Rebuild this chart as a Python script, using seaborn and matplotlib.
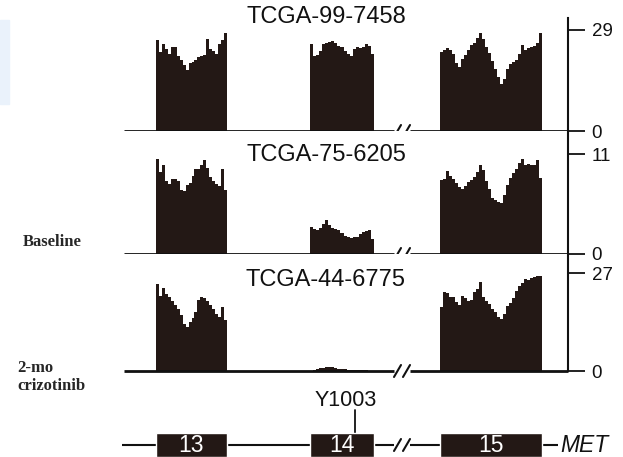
import numpy as np
import pandas as pd
import matplotlib.pyplot as plt
import seaborn as sns
from matplotlib.patches import Rectangle

# samples and depth scale of each track
samples = ['TCGA-99-7458', 'TCGA-75-6205', 'TCGA-44-6775']
max_depth = [29, 11, 27]

# MET exons 13-15 (plot coordinates, intron between 14 and 15 is cut)
exons = ['13', '14', '15']
exon_start = [156, 310, 440]
exon_end = [227, 374, 542]
mutation = 'Y1003'
mutation_pos = 355
gene = 'MET'

# read depth per bin
s1_ex13 = [26, 22.8, 25, 23.5, 22, 24, 24, 21.5, 20.5, 19, 17.5, 19.5,
           19.8, 20.5, 21.3, 21.5, 21.8, 26.5, 23.5, 23, 22, 25, 26, 28]
s1_ex14 = [25, 21.5, 21.7, 23, 25, 25.3, 25.5, 25.8, 25.2, 24.5, 24,
           23, 22, 21.5, 23.5, 24, 23.8, 24, 25, 24.5, 22]
s1_ex15 = [22.6, 23.3, 23.7, 23.4, 22, 19.5, 18.5, 20.6, 21.8, 23.2, 24.7,
           25.4, 26.7, 28.1, 26.5, 24.2, 22.5, 20.2, 17.8, 15.4, 13.6, 14.8,
           17.8, 19.3, 19.8, 20.3, 22, 24.7, 23.2, 23.8, 24, 24.5, 25.2, 28]

s2_ex13 = [10.5, 9.0, 9.8, 8.0, 7.7, 8.2, 8.3, 8.0, 7.0, 6.9, 7.6, 7.8,
           8.6, 9.3, 9.4, 9.8, 10.3, 9.5, 8.5, 8.0, 7.7, 7.5, 9.3, 7.0]
s2_ex14 = [3.0, 2.7, 2.6, 2.9, 3.3, 3.7, 3.2, 2.9, 2.8, 2.6, 2.3, 2.0,
           1.9, 1.8, 1.9, 1.9, 2.2, 2.4, 2.5, 2.6, 1.6]
s2_ex15 = [8.1, 8.3, 9.1, 8.6, 8.2, 7.8, 7.4, 7.2, 7.5, 7.9, 8.1, 8.5,
           9.0, 9.8, 9.2, 8.0, 7.1, 6.2, 5.9, 5.7, 5.6, 6.5, 7.6, 8.4,
           8.9, 9.4, 10.0, 10.5, 9.8, 9.9, 9.8, 9.8, 10.3, 8.4]

s3_ex13 = [24, 20.6, 23, 21.2, 20.5, 19.2, 18.3, 17, 15.5, 13, 12, 13.5,
           14.5, 16.2, 19.5, 20.5, 20, 19.3, 18.2, 17.2, 15.8, 15, 17.5, 14]
s3_ex14 = [0, 0.4, 0.6, 0.8, 0.9, 1.0, 1.1, 1.0, 0.8, 0.6, 0.5, 0.5,
           0.4, 0.4, 0.4, 0.3, 0.3, 0.3, 0.2, 0.1, 0]
s3_ex15 = [17.5, 21.8, 21.5, 20.5, 20.5, 19, 18.3, 20.8, 20, 19.2, 19.5,
           21.8, 22.5, 24.5, 20.5, 19.2, 18.5, 17, 16.2, 15, 14.3, 15.8,
           17.8, 18.8, 20, 22, 23.5, 24.2, 25.3, 25, 25.5, 26, 26.3, 26.2]

coverage = [[s1_ex13, s1_ex14, s1_ex15],
            [s2_ex13, s2_ex14, s2_ex15],
            [s3_ex13, s3_ex14, s3_ex15]]

FILL = '#231815'
LINE = '#111111'
W, H = 623, 457
XMIN, XMAX = 124, 568
BREAK = 402

sns.set_theme(style='white')
plt.rcParams['font.family'] = ['Liberation Sans', 'DejaVu Sans']

fig = plt.figure(figsize=(W / 100, H / 100), dpi=100)
fig.patches.append(Rectangle((0, 1 - 104 / H), 9 / W, 84 / H, transform=fig.transFigure,
                             color='#eaf2fb', zorder=0))


def px_axes(top, bottom):
    return fig.add_axes([XMIN / W, 1 - bottom / H, (XMAX - XMIN) / W, (bottom - top) / H])


# (axes top px, baseline px, px of the max tick, title baseline px)
panels = [(18, 131, 30, 23), (131, 254, 154, 161), (254, 371, 273, 286)]

for i, (top, base, tick_px, title_px) in enumerate(panels):
    ax = px_axes(top, base)
    h = base - top
    ytop = max_depth[i] * h / (base - tick_px)
    for j in range(3):
        vals = coverage[i][j]
        edges = np.linspace(exon_start[j], exon_end[j], len(vals) + 1)
        df = pd.DataFrame({'pos': (edges[:-1] + edges[1:]) / 2, 'depth': vals})
        sns.histplot(data=df, x='pos', weights='depth', bins=edges.tolist(), element='step',
                     fill=True, color=FILL, alpha=1, linewidth=0, ax=ax)
    ax.set_xlim(XMIN, XMAX)
    ax.set_ylim(0, ytop)
    ax.set_xlabel('')
    ax.set_ylabel('')
    ax.set_xticks([])
    for side in ['left', 'top', 'bottom']:
        ax.spines[side].set_visible(False)
    ax.spines['right'].set_linewidth(1.5)
    ax.spines['right'].set_color(LINE)
    ax.yaxis.tick_right()
    ax.set_yticks([0, max_depth[i]])
    ax.tick_params(axis='y', direction='out', length=12, width=1.3, pad=5,
                   labelsize=13.5, colors=LINE, right=True)

    # baseline with a break mark in the intron
    ax.hlines(0, XMIN, BREAK - 8, color=LINE, lw=2, clip_on=False)
    ax.hlines(0, BREAK + 8, XMAX, color=LINE, lw=2, clip_on=False)
    dy = 6 * ytop / h
    for bx in [BREAK - 4.5, BREAK + 4.5]:
        ax.plot([bx - 3.5, bx + 3.5], [-dy, dy], color=LINE, lw=1.5, clip_on=False)

    ax.text(326, (base - title_px) / h, samples[i], transform=ax.get_xaxis_transform(),
            ha='center', va='baseline', fontsize=17, color=LINE)

# gene model
gx = px_axes(380, H)
gx.set_xlim(XMIN, XMAX)
gx.set_ylim(-1, 65 / 12)
gx.axis('off')
gx.hlines(0, 122, BREAK - 8, color=LINE, lw=1.5, clip_on=False)
gx.hlines(0, BREAK + 8, 558, color=LINE, lw=1.5)
for bx in [BREAK - 4.5, BREAK + 4.5]:
    gx.plot([bx - 3.5, bx + 3.5], [-0.5, 0.5], color=LINE, lw=1.5)
gx.bar(exon_start, 2, width=np.array(exon_end) - np.array(exon_start), bottom=-1,
       align='edge', color=FILL, zorder=3)
for name, s, e in zip(exons, exon_start, exon_end):
    gx.text((s + e) / 2, 0, name, ha='center', va='center', color='white',
            fontsize=16.5, zorder=4)
gx.plot([mutation_pos, mutation_pos], [1, 2.9], color=LINE, lw=1.3)
gx.text(346, 3.75, mutation, ha='center', va='center', fontsize=15.5, color=LINE)
gx.text(560, 0, gene, ha='left', va='center', fontsize=16.5, style='italic', color=LINE)

# sample state labels
fig.text(23 / W, 1 - 242 / H, 'Baseline', family='Liberation Serif', weight='bold',
         fontsize=12, ha='left', va='center')
fig.text(17 / W, 1 - 360 / H, '2-mo\ncrizotinib', family='Liberation Serif', weight='bold',
         fontsize=12, ha='left', va='top', linespacing=1.15)

fig.savefig('out.png', dpi=100)
